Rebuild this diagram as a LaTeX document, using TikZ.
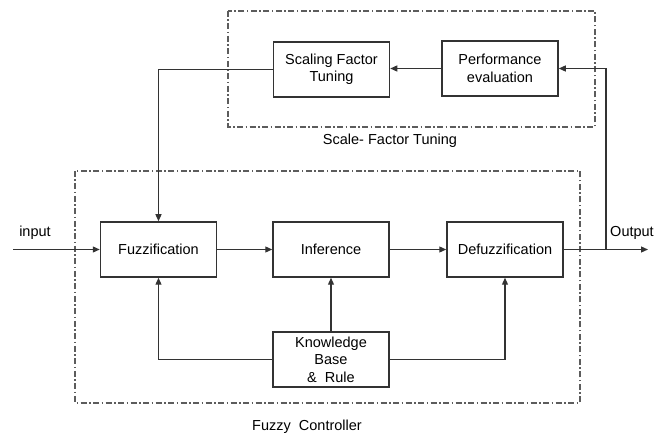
\documentclass[tikz,border=0pt]{standalone}
\usepackage{fontspec}
\setmainfont{Liberation Sans}
\usetikzlibrary{arrows.meta}
\definecolor{ln}{HTML}{333333}
\tikzset{
  blk/.style={draw=ln, line width=1.5pt, minimum width=116pt, minimum height=55pt, inner sep=1pt, align=center, font=\fontsize{14.5}{17.5}\selectfont},
  con/.style={draw=ln, line width=1.2pt},
  arr/.style={con, -{Triangle[length=7pt,width=6pt]}},
  grp/.style={draw=ln!80, line width=1.2pt, dash pattern=on 6pt off 2.5pt on 1.5pt off 2.5pt},
  lbl/.style={font=\fontsize{14.5}{17.5}\selectfont, inner sep=0pt}
}
\begin{document}
\begin{tikzpicture}[x=1pt,y=-1pt]
\useasboundingbox[fill=white] (0,0) rectangle (665,435);
% group frames
\draw[grp] (75,171) rectangle (580,403);
\draw[grp] (228,11) rectangle (595,127);
% blocks
\node[blk] (fuz) at (158.5,249.5) {Fuzzification};
\node[blk] (inf) at (331,249.5) {Inference};
\node[blk] (def) at (505,249.5) {Defuzzification};
\node[blk, line width=1.3pt] (kb) at (331,359.5) {Knowledge\\Base\\\&~~Rule\hspace{10pt}};
\node[blk] (sft) at (331.5,69.5) {Scaling Factor\\Tuning};
\node[blk] (pe) at (500,68.5) {Performance\\evaluation};
% coordinates
\coordinate (in) at (13,249.5);
\coordinate (out) at (648,249.5);
\coordinate (jn) at (606,249.5);
\coordinate (tl) at (158.5,69.5);
% connectors
\draw[arr] (in) -- (fuz.west);
\draw[arr] (fuz.east) -- (inf.west);
\draw[arr] (inf.east) -- (def.west);
\draw[arr] (def.east) -- (out);
\draw[arr] (jn) |- (pe.east);
\draw[arr] (pe.west) -- (pe.west -| sft.east);
\draw[arr] (sft.west) -- (tl) -- (fuz.north);
\draw[arr] (kb.north) -- (inf.south);
\draw[arr] (kb.west) -| (fuz.south);
\draw[arr] (kb.east) -| (def.south);
% labels
\node[lbl] (linput) at (35,233) {input};
\node[lbl] (loutput) at (632,233) {Output};
\node[lbl] (lsft) at (390,141) {Scale- Factor Tuning};
\node[lbl] (lfc) at (307,427) {Fuzzy~~Controller};
\end{tikzpicture}
\end{document}
